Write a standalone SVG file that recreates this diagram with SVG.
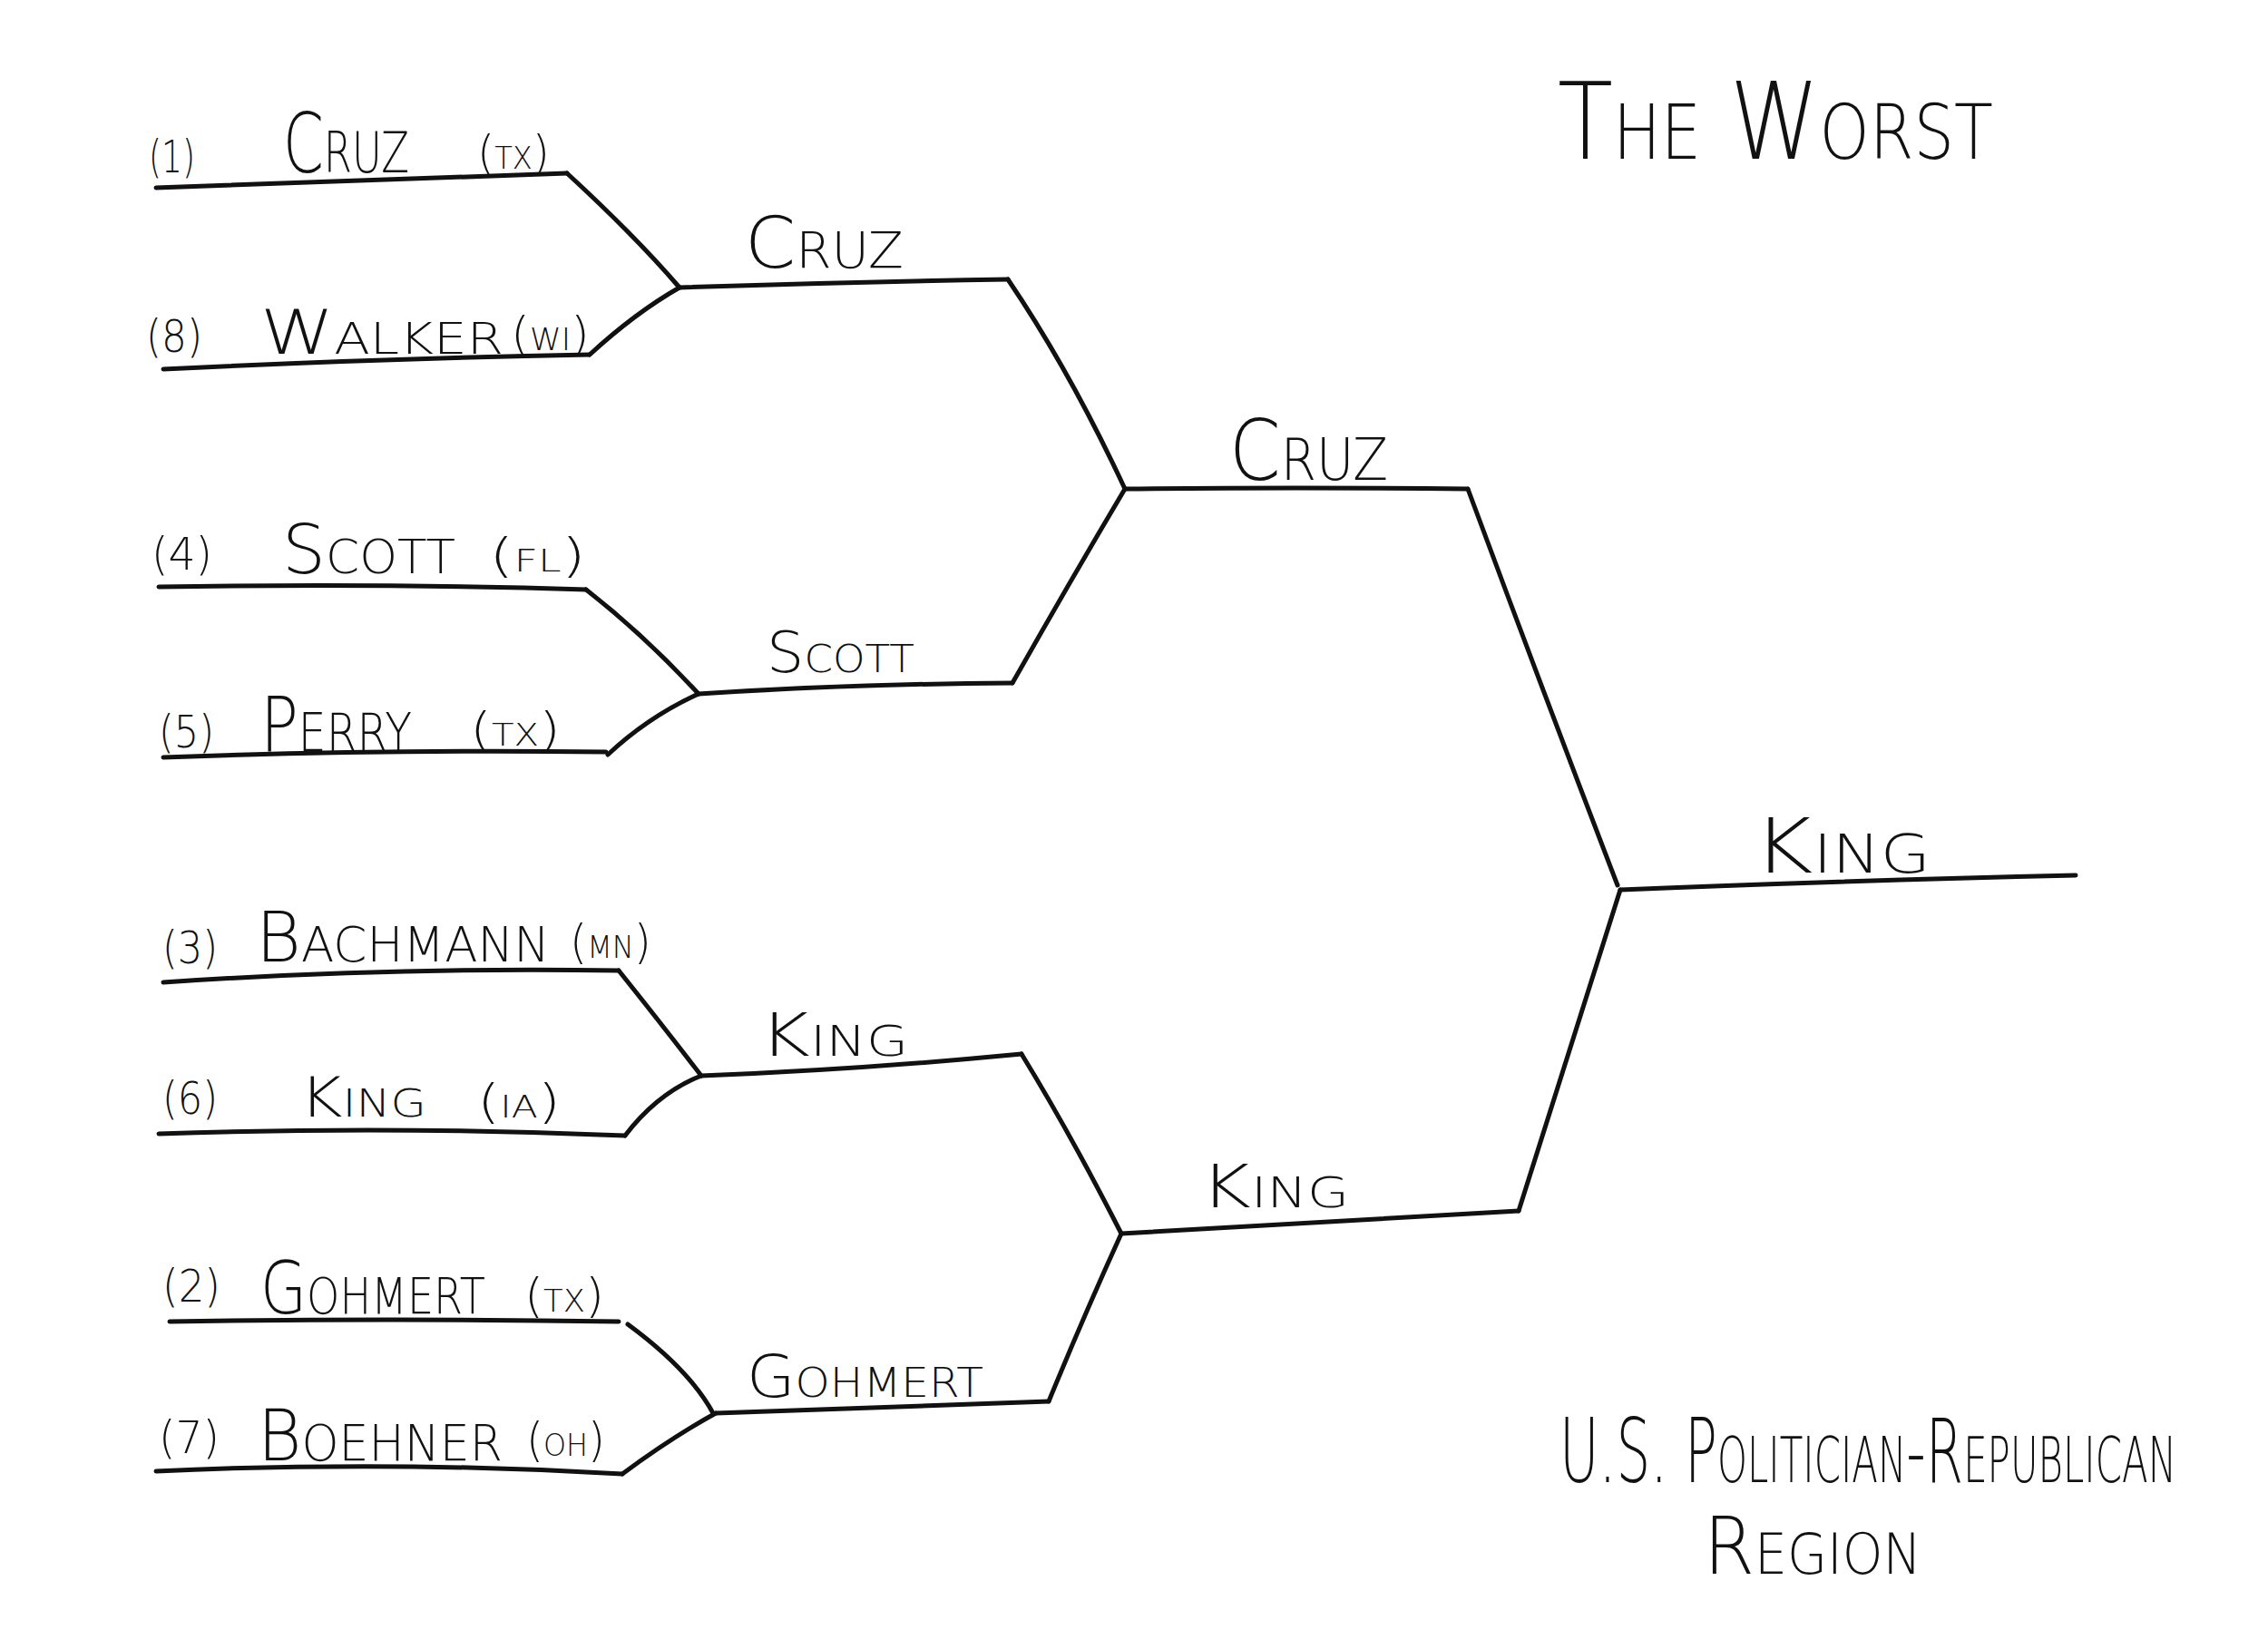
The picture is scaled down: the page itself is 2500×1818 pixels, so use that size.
<svg xmlns="http://www.w3.org/2000/svg" width="2500" height="1818" viewBox="0 0 2500 1818">
<style>
.ln{fill:none;stroke:#111;stroke-width:5;stroke-linecap:round;stroke-linejoin:round}
text{font-family:"DejaVu Sans","Liberation Sans",sans-serif;font-weight:200;fill:#111}
.sc{font-variant:small-caps}
.seed{font-size:50px}
.p{font-size:52px}
.ab{font-size:34px}
</style>
<rect width="2500" height="1818" fill="#fff"/>
<g id="title"><text class="sc" x="1717" y="175" font-size="118" textLength="480" lengthAdjust="spacingAndGlyphs">The Worst</text></g>
<g id="region-label">
<text class="sc" x="1719" y="1634" font-size="98" textLength="680" lengthAdjust="spacingAndGlyphs">U.S. Politician-Republican</text>
<text class="sc" x="1878" y="1735" font-size="88" textLength="240" lengthAdjust="spacingAndGlyphs">Region</text>
</g>
<g id="connectors">
<path class="ln" d="M625,191 Q700,260 749,317"/>
<path class="ln" d="M650,391 Q700,345 749,317"/>
<path class="ln" d="M646,650 Q710,700 770,765"/>
<path class="ln" d="M670,832 Q715,790 770,765"/>
<path class="ln" d="M682,1070 Q730,1130 773,1186"/>
<path class="ln" d="M689,1252 Q725,1205 773,1186"/>
<path class="ln" d="M692,1460 Q760,1510 786,1558"/>
<path class="ln" d="M686,1625 Q740,1585 789,1558"/>
<path class="ln" d="M1111,308 Q1180,410 1240,539"/>
<path class="ln" d="M1116,753 Q1180,640 1240,539"/>
<path class="ln" d="M1126,1162 Q1180,1250 1236,1360"/>
<path class="ln" d="M1156,1545 Q1195,1450 1236,1360"/>
<path class="ln" d="M1618,539 Q1700,760 1783,976"/>
<path class="ln" d="M1674,1335 Q1730,1160 1786,981"/>
</g>
<g id="seed-1">
<path class="ln" d="M172,207 Q400,198 625,191"/>
<text class="seed" x="164" y="190" textLength="51" lengthAdjust="spacingAndGlyphs">(1)</text>
<text class="sc" x="312" y="190" font-size="90" textLength="139" lengthAdjust="spacingAndGlyphs">Cruz</text>
<text x="526" y="186" textLength="80" lengthAdjust="spacingAndGlyphs"><tspan class="p">(</tspan><tspan class="ab">TX</tspan><tspan class="p">)</tspan></text>
</g>
<g id="seed-8">
<path class="ln" d="M180,407 Q420,395 650,391"/>
<text class="seed" x="161" y="388" textLength="62" lengthAdjust="spacingAndGlyphs">(8)</text>
<text class="sc" x="287" y="390" font-size="68" textLength="268" lengthAdjust="spacingAndGlyphs">Walker</text>
<text x="563" y="386" textLength="87" lengthAdjust="spacingAndGlyphs"><tspan class="p">(</tspan><tspan class="ab">WI</tspan><tspan class="p">)</tspan></text>
</g>
<g id="seed-4">
<path class="ln" d="M175,647 Q420,643 646,650"/>
<text class="seed" x="167" y="628" textLength="67" lengthAdjust="spacingAndGlyphs">(4)</text>
<text class="sc" x="311" y="632" font-size="74" textLength="191" lengthAdjust="spacingAndGlyphs">Scott</text>
<text x="539" y="630" textLength="107" lengthAdjust="spacingAndGlyphs"><tspan class="p">(</tspan><tspan class="ab">FL</tspan><tspan class="p">)</tspan></text>
</g>
<g id="seed-5">
<path class="ln" d="M180,835 Q420,826 668,829"/>
<text class="seed" x="175" y="824" textLength="61" lengthAdjust="spacingAndGlyphs">(5)</text>
<text class="sc" x="287" y="828" font-size="84" textLength="167" lengthAdjust="spacingAndGlyphs">Perry</text>
<text x="518" y="822" textLength="100" lengthAdjust="spacingAndGlyphs"><tspan class="p">(</tspan><tspan class="ab">TX</tspan><tspan class="p">)</tspan></text>
</g>
<g id="seed-3">
<path class="ln" d="M180,1083 Q430,1066 682,1070"/>
<text class="seed" x="179" y="1062" textLength="61" lengthAdjust="spacingAndGlyphs">(3)</text>
<text class="sc" x="282" y="1060" font-size="76" textLength="324" lengthAdjust="spacingAndGlyphs">Bachmann</text>
<text x="628" y="1056" textLength="90" lengthAdjust="spacingAndGlyphs"><tspan class="p">(</tspan><tspan class="ab">MN</tspan><tspan class="p">)</tspan></text>
</g>
<g id="seed-6">
<path class="ln" d="M175,1250 Q430,1241 689,1252"/>
<text class="seed" x="179" y="1228" textLength="61" lengthAdjust="spacingAndGlyphs">(6)</text>
<text class="sc" x="330" y="1231" font-size="60" textLength="140" lengthAdjust="spacingAndGlyphs">King</text>
<text x="526" y="1232" textLength="92" lengthAdjust="spacingAndGlyphs"><tspan class="p">(</tspan><tspan class="ab">IA</tspan><tspan class="p">)</tspan></text>
</g>
<g id="seed-2">
<path class="ln" d="M187,1457 Q430,1453 682,1457"/>
<text class="seed" x="179" y="1435" textLength="64" lengthAdjust="spacingAndGlyphs">(2)</text>
<text class="sc" x="287" y="1448" font-size="80" textLength="248" lengthAdjust="spacingAndGlyphs">Gohmert</text>
<text x="578" y="1446" textLength="88" lengthAdjust="spacingAndGlyphs"><tspan class="p">(</tspan><tspan class="ab">TX</tspan><tspan class="p">)</tspan></text>
</g>
<g id="seed-7">
<path class="ln" d="M172,1622 Q430,1610 686,1625"/>
<text class="seed" x="175" y="1602" textLength="67" lengthAdjust="spacingAndGlyphs">(7)</text>
<text class="sc" x="284" y="1610" font-size="78" textLength="270" lengthAdjust="spacingAndGlyphs">Boehner</text>
<text x="580" y="1605" textLength="87" lengthAdjust="spacingAndGlyphs"><tspan class="p">(</tspan><tspan class="ab">OH</tspan><tspan class="p">)</tspan></text>
</g>
<g id="r2-cruz">
<path class="ln" d="M749,317 Q930,311 1111,308"/>
<text class="sc" x="821" y="295" font-size="78" textLength="175" lengthAdjust="spacingAndGlyphs">Cruz</text>
</g>
<g id="r2-scott">
<path class="ln" d="M770,765 Q940,754 1116,753"/>
<text class="sc" x="845" y="741" font-size="62" textLength="163" lengthAdjust="spacingAndGlyphs">Scott</text>
</g>
<g id="r2-king">
<path class="ln" d="M773,1186 Q950,1179 1126,1162"/>
<text class="sc" x="837" y="1164" font-size="66" textLength="164" lengthAdjust="spacingAndGlyphs">King</text>
</g>
<g id="r2-gohmert">
<path class="ln" d="M789,1558 Q970,1552 1156,1545"/>
<text class="sc" x="823" y="1540" font-size="64" textLength="261" lengthAdjust="spacingAndGlyphs">Gohmert</text>
</g>
<g id="r3-cruz">
<path class="ln" d="M1240,539 Q1430,537 1618,539"/>
<text class="sc" x="1355" y="529" font-size="92" textLength="175" lengthAdjust="spacingAndGlyphs">Cruz</text>
</g>
<g id="r3-king">
<path class="ln" d="M1236,1360 Q1450,1347 1674,1335"/>
<text class="sc" x="1323" y="1331" font-size="66" textLength="164" lengthAdjust="spacingAndGlyphs">King</text>
</g>
<g id="winner-king">
<path class="ln" d="M1786,981 Q2030,971 2288,965"/>
<text class="sc" x="1932" y="962" font-size="84" textLength="196" lengthAdjust="spacingAndGlyphs">King</text>
</g>
</svg>
